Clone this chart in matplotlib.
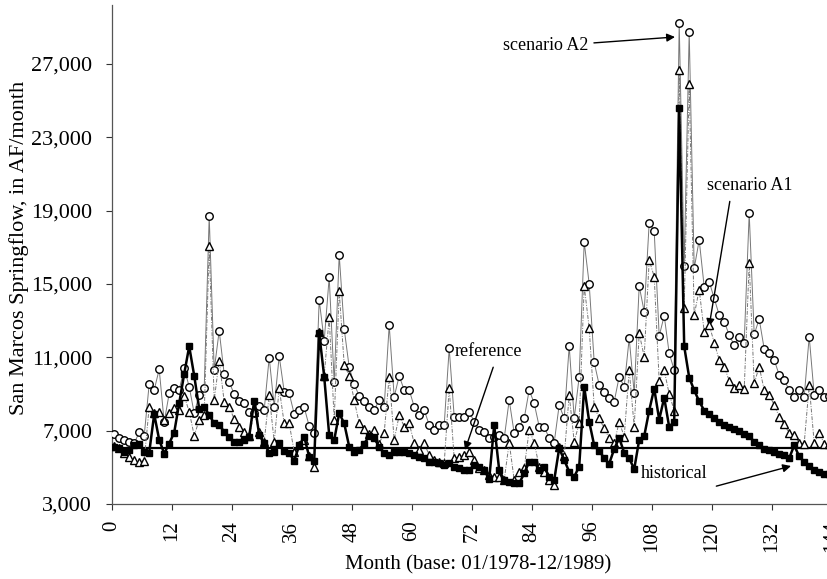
import matplotlib
matplotlib.use("Agg")
import matplotlib.pyplot as plt
import numpy as np

# months 0..143 (01/1978 - 12/1989)
historical = [6130, 6040, 5850, 5950, 6200, 6300, 5850, 5800, 7900, 6500,
              5750, 6300, 6900, 8500, 10100, 11600, 10000, 8200, 8300, 7850,
              7400, 7300, 6950, 6650, 6400, 6400, 6490, 6670, 8640, 6760,
              6310, 5800, 5860, 6310, 5890, 5800, 5360, 6200, 6670, 5580,
              5360, 12310, 9950, 6760, 6490, 7950, 7400, 6130, 5860, 5950,
              6300, 6700, 6600, 6100, 5770, 5670, 5850, 5850, 5850, 5770,
              5670, 5580, 5490, 5310, 5310, 5220, 5130, 5220, 5040, 4950,
              4850, 4850, 5130, 5040, 4850, 4350, 7310, 4850, 4310, 4220,
              4130, 4130, 4670, 5310, 5310, 4850, 5040, 4490, 4310, 6040,
              5400, 4760, 4490, 5040, 9400, 7490, 6200, 5900, 5500, 5200,
              6000, 6600, 5800, 5500, 4900, 6500, 6700, 8100, 9300, 7600,
              8800, 7200, 7500, 24600, 11600, 9900, 9200, 8600, 8100, 7900,
              7700, 7500, 7300, 7200, 7100, 7000, 6800, 6700, 6400, 6200,
              6000, 5950, 5850, 5750, 5650, 5500, 6200, 5600, 5300, 5050,
              4850, 4750, 4650, 4650]

scenario_a1 = [6160, 6040, 5800, 5580, 5400, 5310, 5360, 8310, 7950, 8000,
               7600, 7950, 8220, 8130, 8900, 8040, 6730, 7580, 7850, 17070,
               8670, 10820, 8580, 8310, 7620, 7220, 6940, 6700, 8000, 6940,
               6400, 8950, 6400, 9310, 7400, 7400, 5850, 6200, 6500, 5600,
               5000, 12400, 10000, 13200, 7600, 14600, 10600, 10000, 8670, 7400,
               7100, 6800, 7040, 6300, 6900, 9950, 6490, 7850, 7220, 7400,
               6310, 5950, 6310, 5670, 5400, 5310, 5220, 9310, 5490, 5580,
               5670, 5850, 5400, 4950, 4850, 4580, 4490, 4490, 4310, 6350,
               4310, 4760, 4950, 7040, 6350, 5040, 4760, 4310, 4040, 6130,
               5600, 8950, 6400, 7400, 14900, 12600, 8310, 7670, 7130, 6580,
               6310, 7490, 6670, 10310, 7220, 12310, 11040, 16310, 15400, 9700,
               10300, 9000, 8100, 26700, 13700, 25900, 13300, 14700, 12400, 12760,
               11800, 10860, 10490, 9730, 9310, 9490, 9260, 16130, 9580, 10490,
               9220, 8950, 8400, 7760, 7350, 6860, 6760, 6310, 6300, 9490,
               6330, 6860, 6300, 6300]

scenario_a2 = [6800, 6580, 6490, 6400, 6310, 6910, 6730, 9550, 9220, 10350,
               7460, 9040, 9310, 9220, 10400, 9400, 7950, 8950, 9310, 18710,
               10310, 12450, 10090, 9640, 9000, 8600, 8490, 8040, 7980, 8350,
               8130, 10990, 8310, 11070, 9130, 9040, 7910, 8130, 8270, 7250,
               6860, 14130, 11900, 15370, 9640, 16600, 12550, 10460, 9530, 8900,
               8600, 8300, 8130, 8670, 8310, 12760, 8850, 9980, 9220, 9220,
               8310, 7860, 8130, 7310, 7040, 7310, 7310, 11490, 7760, 7760,
               7760, 8040, 7490, 7040, 6940, 6580, 6670, 6760, 6580, 8670,
               6860, 7220, 7670, 9220, 8490, 7220, 7220, 6580, 6350, 8400,
               7670, 11620, 7670, 9950, 17300, 15000, 10730, 9490, 9130, 8770,
               8580, 9950, 9400, 12040, 9040, 14890, 13490, 18350, 17890, 12160,
               13270, 11220, 10310, 29250, 16000, 28750, 15860, 17400, 14850, 15130,
               14220, 13310, 12950, 12220, 11670, 12130, 11800, 18860, 12250, 13090,
               11460, 11250, 10860, 10040, 9760, 9220, 8850, 9220, 8850, 12130,
               8950, 9200, 8850, 8900]

reference_level = 6050

x_ticks = list(range(0, 145, 12))
y_ticks = [3000, 7000, 11000, 15000, 19000, 23000, 27000]

plt.rcParams['font.family'] = ['Liberation Serif', 'DejaVu Serif']

fig = plt.figure(figsize=(8.28, 5.79), dpi=100)
W, H = 828, 579
left, right, bottom, top = 111.7, 831.7, 504, 5
ax = fig.add_axes([left / W, (H - bottom) / H, (right - left) / W, (bottom - top) / H])

months = np.arange(len(historical)) + 0.5

ax.plot([0, 144], [reference_level, reference_level], color='black', lw=1.6, zorder=2)
ax.plot(months, scenario_a2, color='#777777', lw=0.7, marker='o', ms=5.4,
        mfc='white', mec='black', mew=1.0, zorder=3)
ax.plot(months, scenario_a1, color='#777777', lw=0.7, ls=(0, (4, 1.5, 1, 1.5)), marker='^', ms=5.4,
        mfc='white', mec='black', mew=1.0, zorder=4)
ax.plot(months, historical, color='black', lw=1.8, marker='s', ms=5.0,
        mfc='black', mec='black', zorder=5)

ax.set_xlim(0, 144)
ax.set_ylim(3000, 3000 + (bottom - top) * 54.55)
ax.set_xticks(x_ticks)
ax.set_xticklabels([str(t) for t in x_ticks], rotation=90, fontsize=15)
ax.set_yticks(y_ticks)
ax.set_yticklabels([f"{v:,}" for v in y_ticks], fontsize=16)
ax.tick_params(axis='y', direction='out', length=4, width=0.8, colors='#333333',
               labelcolor='black', pad=10)
ax.tick_params(axis='x', direction='out', length=4, width=0.8, colors='#333333',
               labelcolor='black', pad=8)
for s in ['top', 'right']:
    ax.spines[s].set_visible(False)
for s in ['left', 'bottom']:
    ax.spines[s].set_color('#555555')
    ax.spines[s].set_linewidth(0.9)

fig.text(19 / W, 1 - 248 / H, "San Marcos Springflow, in AF/month", fontsize=16,
         rotation=90, ha='center', va='center')
fig.text(478 / W, 1 - 565 / H, "Month (base: 01/1978-12/1989)", fontsize=15,
         ha='center', va='center')

def yv(py):
    return 3000 + (bottom - py) * 54.55

def xm(px):
    return (px - left) / 5.0

ax.annotate("scenario A2", xy=(xm(675), yv(37)), xytext=(xm(503), yv(45)), fontsize=13,
            ha='left', va='center',
            arrowprops=dict(arrowstyle='-|>', color='black', lw=1.0, mutation_scale=12,
                            relpos=(1.0, 0.6), shrinkA=2, shrinkB=0))
ax.annotate("scenario A1", xy=(xm(709), yv(327)), xytext=(xm(707), yv(186)), fontsize=13,
            ha='left', va='center',
            arrowprops=dict(arrowstyle='-|>', color='black', lw=1.0, mutation_scale=12,
                            relpos=(0.28, 0.0), shrinkA=3, shrinkB=0))
ax.annotate("reference", xy=(xm(465), yv(450)), xytext=(xm(455), yv(352)), fontsize=13,
            ha='left', va='center',
            arrowprops=dict(arrowstyle='-|>', color='black', lw=1.0, mutation_scale=12,
                            relpos=(0.6, 0.0), shrinkA=3, shrinkB=0))
ax.annotate("historical", xy=(xm(791), yv(466)), xytext=(xm(641), yv(474)), fontsize=13,
            ha='left', va='center',
            arrowprops=dict(arrowstyle='-|>', color='black', lw=1.0, mutation_scale=12,
                            relpos=(1.05, -0.3), shrinkA=4, shrinkB=0))

fig.savefig("out.png", dpi=100)
